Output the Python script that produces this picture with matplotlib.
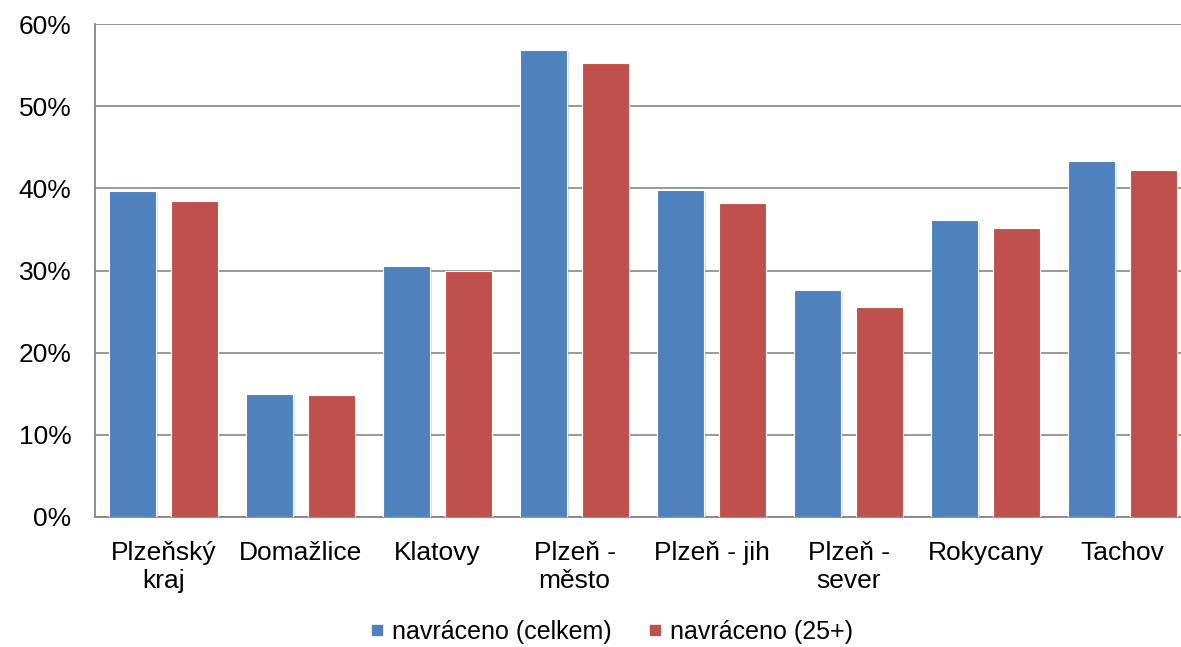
import matplotlib
matplotlib.use("Agg")
import matplotlib.pyplot as plt
import matplotlib.patheffects as pe
from matplotlib.lines import Line2D
from matplotlib.ticker import PercentFormatter
import numpy as np

categories = ["Plzeňský\nkraj", "Domažlice", "Klatovy", "Plzeň -\nměsto",
              "Plzeň - jih", "Plzeň -\nsever", "Rokycany", "Tachov"]
celkem = [39.7, 15.0, 30.5, 56.8, 39.8, 27.6, 36.1, 43.3]
nad25 = [38.5, 14.8, 29.9, 55.3, 38.2, 25.6, 35.2, 42.2]
series_names = ["navráceno (celkem)", "navráceno (25+)"]
yticks = [0, 10, 20, 30, 40, 50, 60]

BLUE, RED, GRID = "#4F81BD", "#C0504D", "#868686"
plt.rcParams["font.family"] = ["Liberation Sans", "DejaVu Sans"]

W, H = 1181, 647
fig = plt.figure(figsize=(W / 100, H / 100), dpi=100)
ax = fig.add_axes([95 / W, 1 - 517 / H, 1096 / W, 493 / H])

x = np.arange(len(categories))
bw, off = 0.343, 0.223
shadow = [pe.SimplePatchShadow(offset=(1.2, -1.2), shadow_rgbFace="#999999", alpha=0.35), pe.Normal()]
for vals, dx, col in [(celkem, -off, BLUE), (nad25, off, RED)]:
    bars = ax.bar(x + dx, vals, width=bw, color=col, edgecolor="white", linewidth=0.8, zorder=3)
    for b in bars:
        b.set_path_effects(shadow)

ax.set_xlim(-0.5, len(categories) - 0.5)
ax.set_ylim(0, 60)
ax.set_yticks(yticks)
ax.yaxis.set_major_formatter(PercentFormatter(decimals=0))
ax.grid(axis="y", color=GRID, linewidth=1.2, zorder=0)
ax.set_xticks(x)
ax.set_xticklabels(categories, linespacing=1.25)
ax.tick_params(axis="both", length=0, labelsize=19, colors="black")
ax.tick_params(axis="y", pad=17)
ax.tick_params(axis="x", pad=17)
for s in ["top", "right"]:
    ax.spines[s].set_visible(False)
for s in ["left", "bottom"]:
    ax.spines[s].set_color(GRID)
    ax.spines[s].set_linewidth(1.3)

handles = [Line2D([], [], marker="s", linestyle="none", markersize=6.5, color=c) for c in (BLUE, RED)]
fig.legend(handles, series_names, loc="center", bbox_to_anchor=(612 / W, 1 - 632 / H),
           ncol=2, frameon=False, fontsize=18, handlelength=0.5, handletextpad=0.35,
           columnspacing=1.5)

fig.savefig("out.png", dpi=100)
